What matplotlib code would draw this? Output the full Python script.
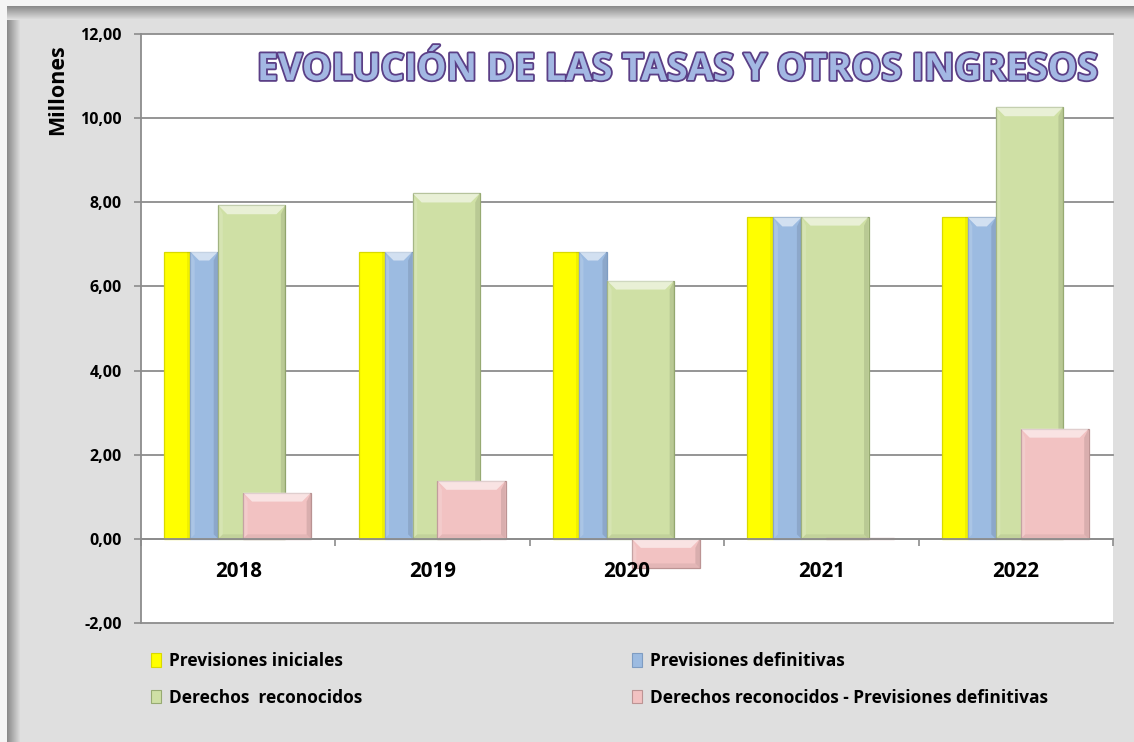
import matplotlib
matplotlib.use('Agg')
import matplotlib.pyplot as plt
from matplotlib.patches import Rectangle, Polygon, Patch
from matplotlib import patheffects as pe
from matplotlib import font_manager as fm
import matplotlib.transforms as mtrans
import numpy as np

# ---------------- data ----------------
years = ['2018', '2019', '2020', '2021', '2022']
prev_iniciales = [6.83, 6.83, 6.83, 7.64, 7.64]
prev_definitivas = [6.83, 6.83, 6.83, 7.64, 7.64]
derechos_reconocidos = [7.93, 8.21, 6.14, 7.66, 10.26]
diferencia = [1.10, 1.38, -0.69, 0.02, 2.62]
series_labels = ['Previsiones iniciales', 'Previsiones definitivas',
                 'Derechos  reconocidos',
                 'Derechos reconocidos - Previsiones definitivas']
title_text = 'EVOLUCIÓN DE LAS TASAS Y OTROS INGRESOS'
ylabel_text = 'Millones'
ytick_values = [-2, 0, 2, 4, 6, 8, 10, 12]

# ---------------- figure ----------------
W, H = 1134, 742
BG = '#DFDFDF'
fig = plt.figure(figsize=(W / 100, H / 100), dpi=100, facecolor=BG)
avail = {f.name for f in fm.fontManager.ttflist}
FONT = 'Open Sans' if 'Open Sans' in avail else 'DejaVu Sans'
plt.rcParams['font.family'] = [FONT, 'DejaVu Sans']

# pixel transform (x from left, y from top)
PX = mtrans.Affine2D().scale(1 / W, -1 / H).translate(0, 1) + fig.transFigure

# frame: white strip + darker inner shadow on top and left
fig.patches.append(Rectangle((0, 0), W, 6, transform=PX, color='#F4F4F4', lw=0))
fig.patches.append(Rectangle((0, 0), 7, H, transform=PX, color='#F4F4F4', lw=0))
c0 = np.array([0x8A, 0x8A, 0x8A]) / 255
c1 = np.array([0xDF, 0xDF, 0xDF]) / 255
for i in range(14):
    t = i / 13
    col = c0 * (1 - t) + c1 * t
    fig.patches.append(Rectangle((7, 6 + i), W - 7, 1, transform=PX, color=col, lw=0))
    fig.patches.append(Rectangle((7 + i, 6 + i), 1, H, transform=PX, color=col, lw=0))

# ---------------- axes ----------------
ax = fig.add_axes([141 / W, 1 - 623 / H, 972 / W, 589 / H])
ax.set_facecolor('white')
ax.spines['bottom'].set_position(('data', 0))
ax.set_xlim(-0.5, 4.5)
ax.set_ylim(-2, 12)
ax.set_axisbelow(True)

GRID = '#8C8C8C'
ax.set_yticks(ytick_values)
ax.set_yticklabels([f'{v:.2f}'.replace('.', ',') for v in ytick_values],
                   fontsize=11.5, fontweight='bold')
ax.tick_params(axis='y', length=5, width=1.2, color=GRID, pad=9)
ax.yaxis.grid(True, color=GRID, lw=1.3)
for gl in ax.get_ygridlines():
    gl.set_clip_on(False)

x = np.arange(len(years))
ax.set_xticks(x)
ax.set_xticklabels(years, fontsize=14.8, fontweight='bold')
ax.set_xticks(np.arange(-0.5, 5, 1), minor=True)
ax.tick_params(axis='x', which='major', length=0, pad=16)
ax.tick_params(axis='x', which='minor', length=5, width=1.2, color=GRID, direction='out')
ax.xaxis.set_zorder(10)
ax.spines['bottom'].set_color(GRID)
ax.spines['bottom'].set_linewidth(1.3)
ax.spines['bottom'].set_zorder(10)
ax.spines['left'].set_color(GRID)
ax.spines['left'].set_linewidth(1.3)
ax.spines['top'].set_visible(False)
ax.spines['right'].set_visible(False)

# ---------------- bars ----------------
DX = 1 / 194.4   # data units per pixel (x)
DY = 14 / 589    # data units per pixel (y)

def bevel(xc, w, v, z, level):
    xl, xr = xc - w / 2, xc + w / 2
    top, bot = max(v, 0), min(v, 0)
    h = (top - bot) / DY
    if h < 3 or level == 0:
        ax.add_patch(Rectangle((xr - 3 * DX, bot), 3 * DX, top - bot, fc='black',
                               alpha=0.06, lw=0, zorder=z + 0.1))
        return
    b = min(9, h / 2.5)
    bx, by = b * DX, b * DY
    ax.add_patch(Polygon([(xl, top), (xr, top), (xr - bx, top - by), (xl + bx, top - by)],
                         closed=True, fc='white', alpha=0.55, lw=0, zorder=z + 0.1))
    ax.add_patch(Polygon([(xr, top), (xr, bot), (xr - bx * 0.5, bot + by * 0.5), (xr - bx * 0.5, top - by)],
                         closed=True, fc='black', alpha=0.10, lw=0, zorder=z + 0.1))
    ax.add_patch(Polygon([(xl, top), (xl, bot), (xl + bx * 0.5, bot + by * 0.5), (xl + bx * 0.5, top - by)],
                         closed=True, fc='white', alpha=0.15, lw=0, zorder=z + 0.1))
    if level > 1:
        ax.add_patch(Polygon([(xl, bot), (xr, bot), (xr - bx * 0.5, bot + by * 0.5), (xl + bx * 0.5, bot + by * 0.5)],
                             closed=True, fc='black', alpha=0.06, lw=0, zorder=z + 0.1))

specs = [
    (prev_iniciales, -0.314, 0.134, '#FFFF00', '#D9D900', 2, 0),
    (prev_definitivas, -0.175, 0.144, '#9CBBE1', '#7E9CC2', 3, 1),
    (derechos_reconocidos, 0.070, 0.345, '#CFE0A5', '#97AA72', 4, 2),
    (diferencia, 0.200, 0.350, '#F2C2C2', '#BC9494', 5, 2),
]
handles = []
for vals, off, w, fc, ec, z, level in specs:
    ax.bar(x + off, vals, width=w, color=fc, edgecolor=ec, linewidth=0.9, zorder=z)
    for xi, v in zip(x, vals):
        bevel(xi + off, w, v, z, level)
    handles.append(Patch(facecolor=fc, edgecolor=ec, linewidth=0.8))

# ---------------- texts ----------------
renderer = fig.canvas.get_renderer()

def fit(t, target_px, along='w'):
    bb = t.get_window_extent(renderer)
    cur = bb.width if along == 'w' else bb.height
    t.set_fontsize(t.get_fontsize() * target_px / cur)

tt = fig.text(677, 70, title_text, transform=PX, ha='center', va='center',
              fontsize=30, fontweight='bold', color='#A3B8E3',
              path_effects=[pe.withStroke(linewidth=2.6, foreground='#5B3F86')], zorder=20)
fit(tt, 840)

yl = fig.text(58, 90, ylabel_text, transform=PX, ha='center', va='center', rotation=90,
              fontsize=13, fontweight='bold', color='black')
fit(yl, 90, along='h')

# ---------------- legend ----------------
leg_kw = dict(frameon=False, prop={'weight': 'bold', 'size': 12.5}, handlelength=0.6,
              handleheight=0.8, handletextpad=0.45, labelspacing=1.07,
              borderpad=0, borderaxespad=0, loc='upper left')
l1 = fig.legend([handles[0], handles[2]], [series_labels[0], series_labels[2]],
                bbox_to_anchor=(151 / W, 1 - 652 / H), **leg_kw)
l2 = fig.legend([handles[1], handles[3]], [series_labels[1], series_labels[3]],
                bbox_to_anchor=(632 / W, 1 - 652 / H), **leg_kw)

fig.savefig('out.png', dpi=100, facecolor=fig.get_facecolor())
